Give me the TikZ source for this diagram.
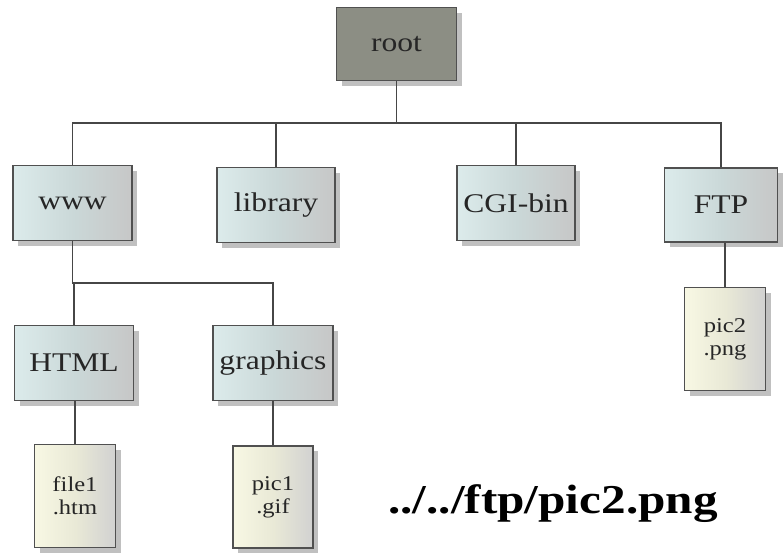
\documentclass[tikz,border=0pt]{standalone}
\usepackage{fontspec}
\setmainfont{Liberation Serif}
\newfontfamily\boxfont[FakeStretch=1.17]{Liberation Serif}
\newfontfamily\pathfont[FakeStretch=1.2]{Liberation Serif}
\usetikzlibrary{shadows}
\definecolor{rootc}{RGB}{140,142,132}
\definecolor{dirc}{RGB}{220,235,235}
\definecolor{filec}{RGB}{248,248,228}
\definecolor{edgec}{RGB}{80,80,80}
\definecolor{linec}{RGB}{70,70,70}

\begin{document}
\begin{tikzpicture}[
  x=1pt, y=-1pt,
  box/.style={draw=edgec, line width=1.4pt, inner sep=2pt, text=black!85,
              drop shadow={shadow xshift=5pt, shadow yshift=-5pt, opacity=0.45, fill=black!55}},
  rootbox/.style={box, fill=rootc, minimum width=120pt, minimum height=73pt,
                  font=\boxfont\fontsize{27}{30}\selectfont},
  dirbox/.style={box, left color=dirc, right color=black!22, middle color=dirc!92!black,
                 minimum width=119pt, minimum height=75pt, font=\boxfont\fontsize{27}{30}\selectfont},
  filebox/.style={box, left color=filec, right color=black!18, middle color=filec!94!black,
                  minimum width=81pt, minimum height=103pt, align=center,
                  font=\boxfont\fontsize{21}{23}\selectfont},
  link/.style={draw=linec, line width=1.6pt},
]
\useasboundingbox (0,0) rectangle (783,554);
% tree of folders
\node[rootbox] (root) at (396.5,44) {root};
\node[dirbox] (www) at (72.5,203) {www};
\node[dirbox, minimum width=118pt] (library) at (276,205) {library};
\node[dirbox, minimum width=118pt] (cgibin) at (516,203) {CGI-bin};
\node[dirbox, minimum width=113pt, minimum height=74pt] (ftp) at (721,205) {FTP};
\node[dirbox] (html) at (74,363) {HTML};
\node[dirbox, minimum width=120pt] (graphics) at (273,363) {graphics};
% files
\node[filebox] (file1) at (75,496) {file1\\.htm};
\node[filebox, minimum width=80pt, minimum height=102pt] (pic1) at (273,497) {pic1\\.gif};
\node[filebox] (pic2) at (725,339) {pic2\\.png};
% relative path
\node[anchor=base west, inner sep=0pt, font=\pathfont\bfseries\fontsize{41}{44}\selectfont] (path) at (388,513) {../../ftp/pic2.png};
% connectors
\coordinate (bus) at (0,123);
\coordinate (sub) at (0,283);
\draw[link] (root.south) -- (root.south |- bus);
\draw[link] (www.north) -- (www.north |- bus) -- (ftp.north |- bus) -- (ftp.north);
\foreach \n in {library,cgibin} \draw[link] (\n.north) -- (\n.north |- bus);
\draw[link] (www.south) -- (www.south |- sub) -- (graphics.north |- sub) -- (graphics.north);
\draw[link] (html.north |- sub) -- (html.north);
\draw[link] (file1.north |- html.south) -- (file1.north);
\draw[link] (graphics) -- (pic1);
\draw[link] (pic2.north |- ftp.south) -- (pic2.north);
\end{tikzpicture}
\end{document}
